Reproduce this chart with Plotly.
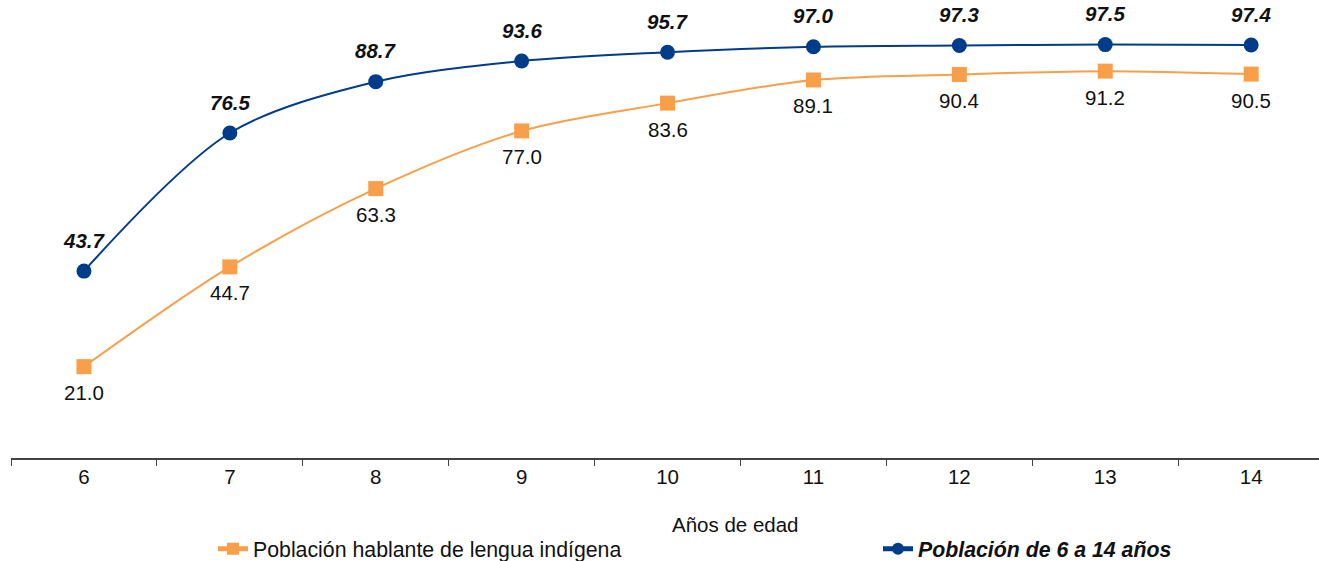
import plotly.graph_objects as go

ages = ["6", "7", "8", "9", "10", "11", "12", "13", "14"]
indigena = [21.0, 44.7, 63.3, 77.0, 83.6, 89.1, 90.4, 91.2, 90.5]
total = [43.7, 76.5, 88.7, 93.6, 95.7, 97.0, 97.3, 97.5, 97.4]

name_ind = "Población hablante de lengua indígena"
name_tot = "<b><i>Población de 6 a 14 años</i></b>"
x_title = "Años de edad"

ORANGE = "#F99F4A"
BLUE = "#003C8A"
FONT = "Liberation Sans, Arial, sans-serif"
FS = 20.5
FS_LEG = 21.3
W, H = 1319, 561
ML, MB = 11, 103
PLOT_H = H - MB
PLOT_W = W - ML

fig = go.Figure()
fig.add_trace(go.Scatter(
    x=ages, y=indigena, name=name_ind, mode="lines+markers",
    line=dict(color=ORANGE, width=2, shape="spline", smoothing=0.9),
    marker=dict(symbol="square", size=15, color=ORANGE),
    legend="legend",
))
fig.add_trace(go.Scatter(
    x=ages, y=total, name=name_tot, mode="lines+markers",
    line=dict(color=BLUE, width=2, shape="spline", smoothing=0.9),
    marker=dict(symbol="circle", size=15, color=BLUE),
    legend="legend2",
))

for i, v in enumerate(indigena):
    fig.add_annotation(x=i, y=v, text=f"{v:.1f}", showarrow=False, yshift=-26,
                       font=dict(size=FS, color="#111111", family=FONT))
for i, v in enumerate(total):
    fig.add_annotation(x=i, y=v, text=f"<b><i>{v:.1f}</i></b>", showarrow=False, yshift=31,
                       font=dict(size=FS, color="#111111", family=FONT))

fig.add_annotation(x=(735 - ML) / PLOT_W, xref="paper", y=(PLOT_H - 524) / PLOT_H, yref="paper",
                   yanchor="middle", text=x_title, showarrow=False,
                   font=dict(size=FS, color="#111111", family=FONT))

legend_common = dict(orientation="h", xanchor="left", yanchor="middle",
                     y=(PLOT_H - 549) / PLOT_H,
                     font=dict(size=FS_LEG, color="#111111", family=FONT),
                     bgcolor="rgba(0,0,0,0)", itemsizing="constant")

fig.update_layout(
    width=W, height=H,
    margin=dict(l=ML, r=0, t=0, b=MB, autoexpand=False),
    paper_bgcolor="white", plot_bgcolor="white",
    font=dict(family=FONT, size=FS, color="#111111"),
    showlegend=True,
    legend=dict(x=(213 - ML) / PLOT_W, **legend_common),
    legend2=dict(x=(878 - ML) / PLOT_W, **legend_common),
    xaxis=dict(type="category", range=[-0.5, 8.465], tickson="boundaries",
               ticks="outside", ticklen=6, tickcolor="#444444", tickwidth=1,
               showline=True, linecolor="#444444", linewidth=1.5,
               showgrid=False, zeroline=False, automargin=False,
               tickfont=dict(size=FS, color="#111111", family=FONT)),
    yaxis=dict(visible=False, range=[-0.7, 108.1], showgrid=False, zeroline=False),
)

fig.write_html("out.html", config={"displayModeBar": False},
               post_script="document.body.style.margin='0px';document.body.style.overflow='hidden';")
